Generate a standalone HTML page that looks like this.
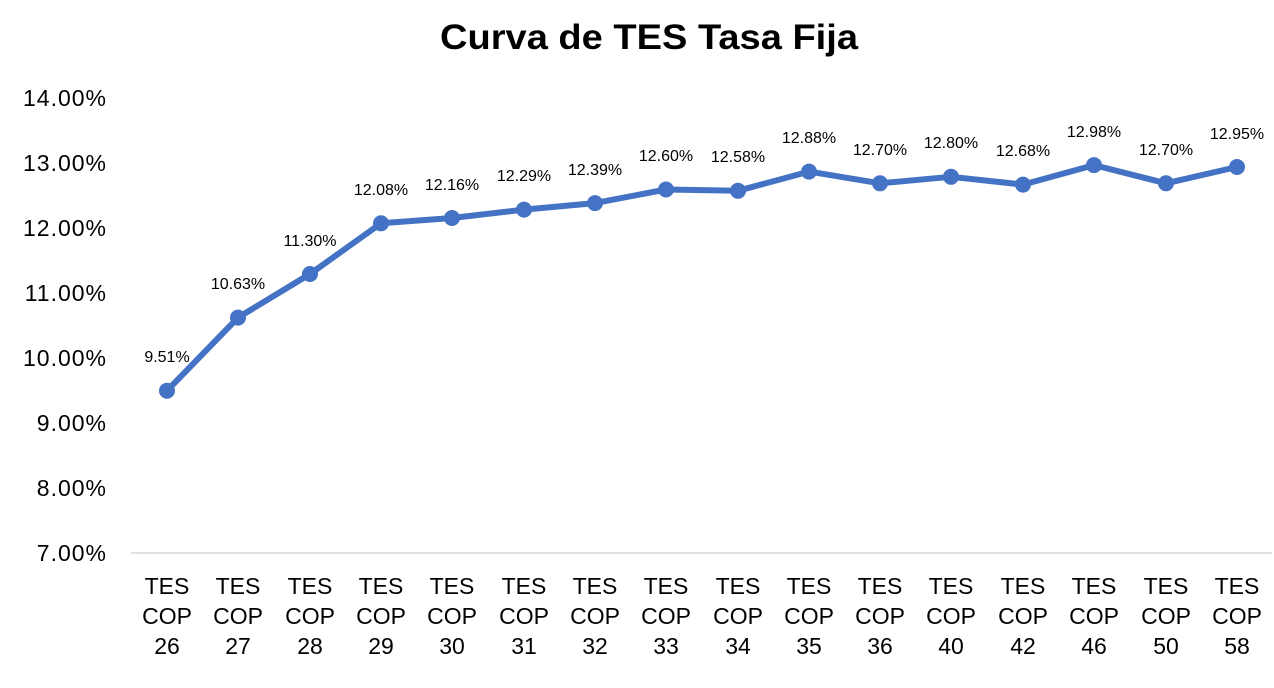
<!DOCTYPE html>
<html><head><meta charset="utf-8"><style>
body{margin:0;background:#fff;}
svg text{font-family:"Liberation Sans",sans-serif;fill:#000;}
</style></head><body>
<svg width="1274" height="683" viewBox="0 0 1274 683" xmlns="http://www.w3.org/2000/svg">
<rect width="1274" height="683" fill="#fff"/>
<text x="440" y="49" font-size="35" font-weight="bold" textLength="418" lengthAdjust="spacingAndGlyphs">Curva de TES Tasa Fija</text>
<g font-size="23" text-anchor="end" letter-spacing="1">
<text x="107" y="106">14.00%</text>
<text x="107" y="171">13.00%</text>
<text x="107" y="236">12.00%</text>
<text x="107" y="301">11.00%</text>
<text x="107" y="366">10.00%</text>
<text x="107" y="431">9.00%</text>
<text x="107" y="496">8.00%</text>
<text x="107" y="561">7.00%</text>
</g>
<line x1="131" y1="553" x2="1272" y2="553" stroke="#d9d9d9" stroke-width="1.5"/>
<polyline fill="none" stroke="#4472c4" stroke-width="6" stroke-linejoin="round" points="167,390.7 238,317.6 310,274.0 381,223.3 452,218.0 524,209.6 595,203.1 666,189.5 738,190.8 809,171.6 880,183.3 951,176.8 1023,184.6 1094,165.1 1166,183.3 1237,167.0"/>
<g fill="#4472c4">
<circle cx="167" cy="390.7" r="8"/><circle cx="238" cy="317.6" r="8"/><circle cx="310" cy="274.0" r="8"/><circle cx="381" cy="223.3" r="8"/><circle cx="452" cy="218.0" r="8"/><circle cx="524" cy="209.6" r="8"/><circle cx="595" cy="203.1" r="8"/><circle cx="666" cy="189.5" r="8"/><circle cx="738" cy="190.8" r="8"/><circle cx="809" cy="171.6" r="8"/><circle cx="880" cy="183.3" r="8"/><circle cx="951" cy="176.8" r="8"/><circle cx="1023" cy="184.6" r="8"/><circle cx="1094" cy="165.1" r="8"/><circle cx="1166" cy="183.3" r="8"/><circle cx="1237" cy="167.0" r="8"/>
</g>
<g font-size="16" text-anchor="middle">
<text x="167" y="362">9.51%</text><text x="238" y="289">10.63%</text><text x="310" y="246">11.30%</text><text x="381" y="195">12.08%</text><text x="452" y="190">12.16%</text><text x="524" y="181">12.29%</text><text x="595" y="175">12.39%</text><text x="666" y="161">12.60%</text><text x="738" y="162">12.58%</text><text x="809" y="143">12.88%</text><text x="880" y="155">12.70%</text><text x="951" y="148">12.80%</text><text x="1023" y="156">12.68%</text><text x="1094" y="137">12.98%</text><text x="1166" y="155">12.70%</text><text x="1237" y="139">12.95%</text>
</g>
<g font-size="23" text-anchor="middle">
<text x="167" y="594">TES</text><text x="167" y="624">COP</text><text x="167" y="654">26</text>
<text x="238" y="594">TES</text><text x="238" y="624">COP</text><text x="238" y="654">27</text>
<text x="310" y="594">TES</text><text x="310" y="624">COP</text><text x="310" y="654">28</text>
<text x="381" y="594">TES</text><text x="381" y="624">COP</text><text x="381" y="654">29</text>
<text x="452" y="594">TES</text><text x="452" y="624">COP</text><text x="452" y="654">30</text>
<text x="524" y="594">TES</text><text x="524" y="624">COP</text><text x="524" y="654">31</text>
<text x="595" y="594">TES</text><text x="595" y="624">COP</text><text x="595" y="654">32</text>
<text x="666" y="594">TES</text><text x="666" y="624">COP</text><text x="666" y="654">33</text>
<text x="738" y="594">TES</text><text x="738" y="624">COP</text><text x="738" y="654">34</text>
<text x="809" y="594">TES</text><text x="809" y="624">COP</text><text x="809" y="654">35</text>
<text x="880" y="594">TES</text><text x="880" y="624">COP</text><text x="880" y="654">36</text>
<text x="951" y="594">TES</text><text x="951" y="624">COP</text><text x="951" y="654">40</text>
<text x="1023" y="594">TES</text><text x="1023" y="624">COP</text><text x="1023" y="654">42</text>
<text x="1094" y="594">TES</text><text x="1094" y="624">COP</text><text x="1094" y="654">46</text>
<text x="1166" y="594">TES</text><text x="1166" y="624">COP</text><text x="1166" y="654">50</text>
<text x="1237" y="594">TES</text><text x="1237" y="624">COP</text><text x="1237" y="654">58</text>
</g>
</svg>
</body></html>
